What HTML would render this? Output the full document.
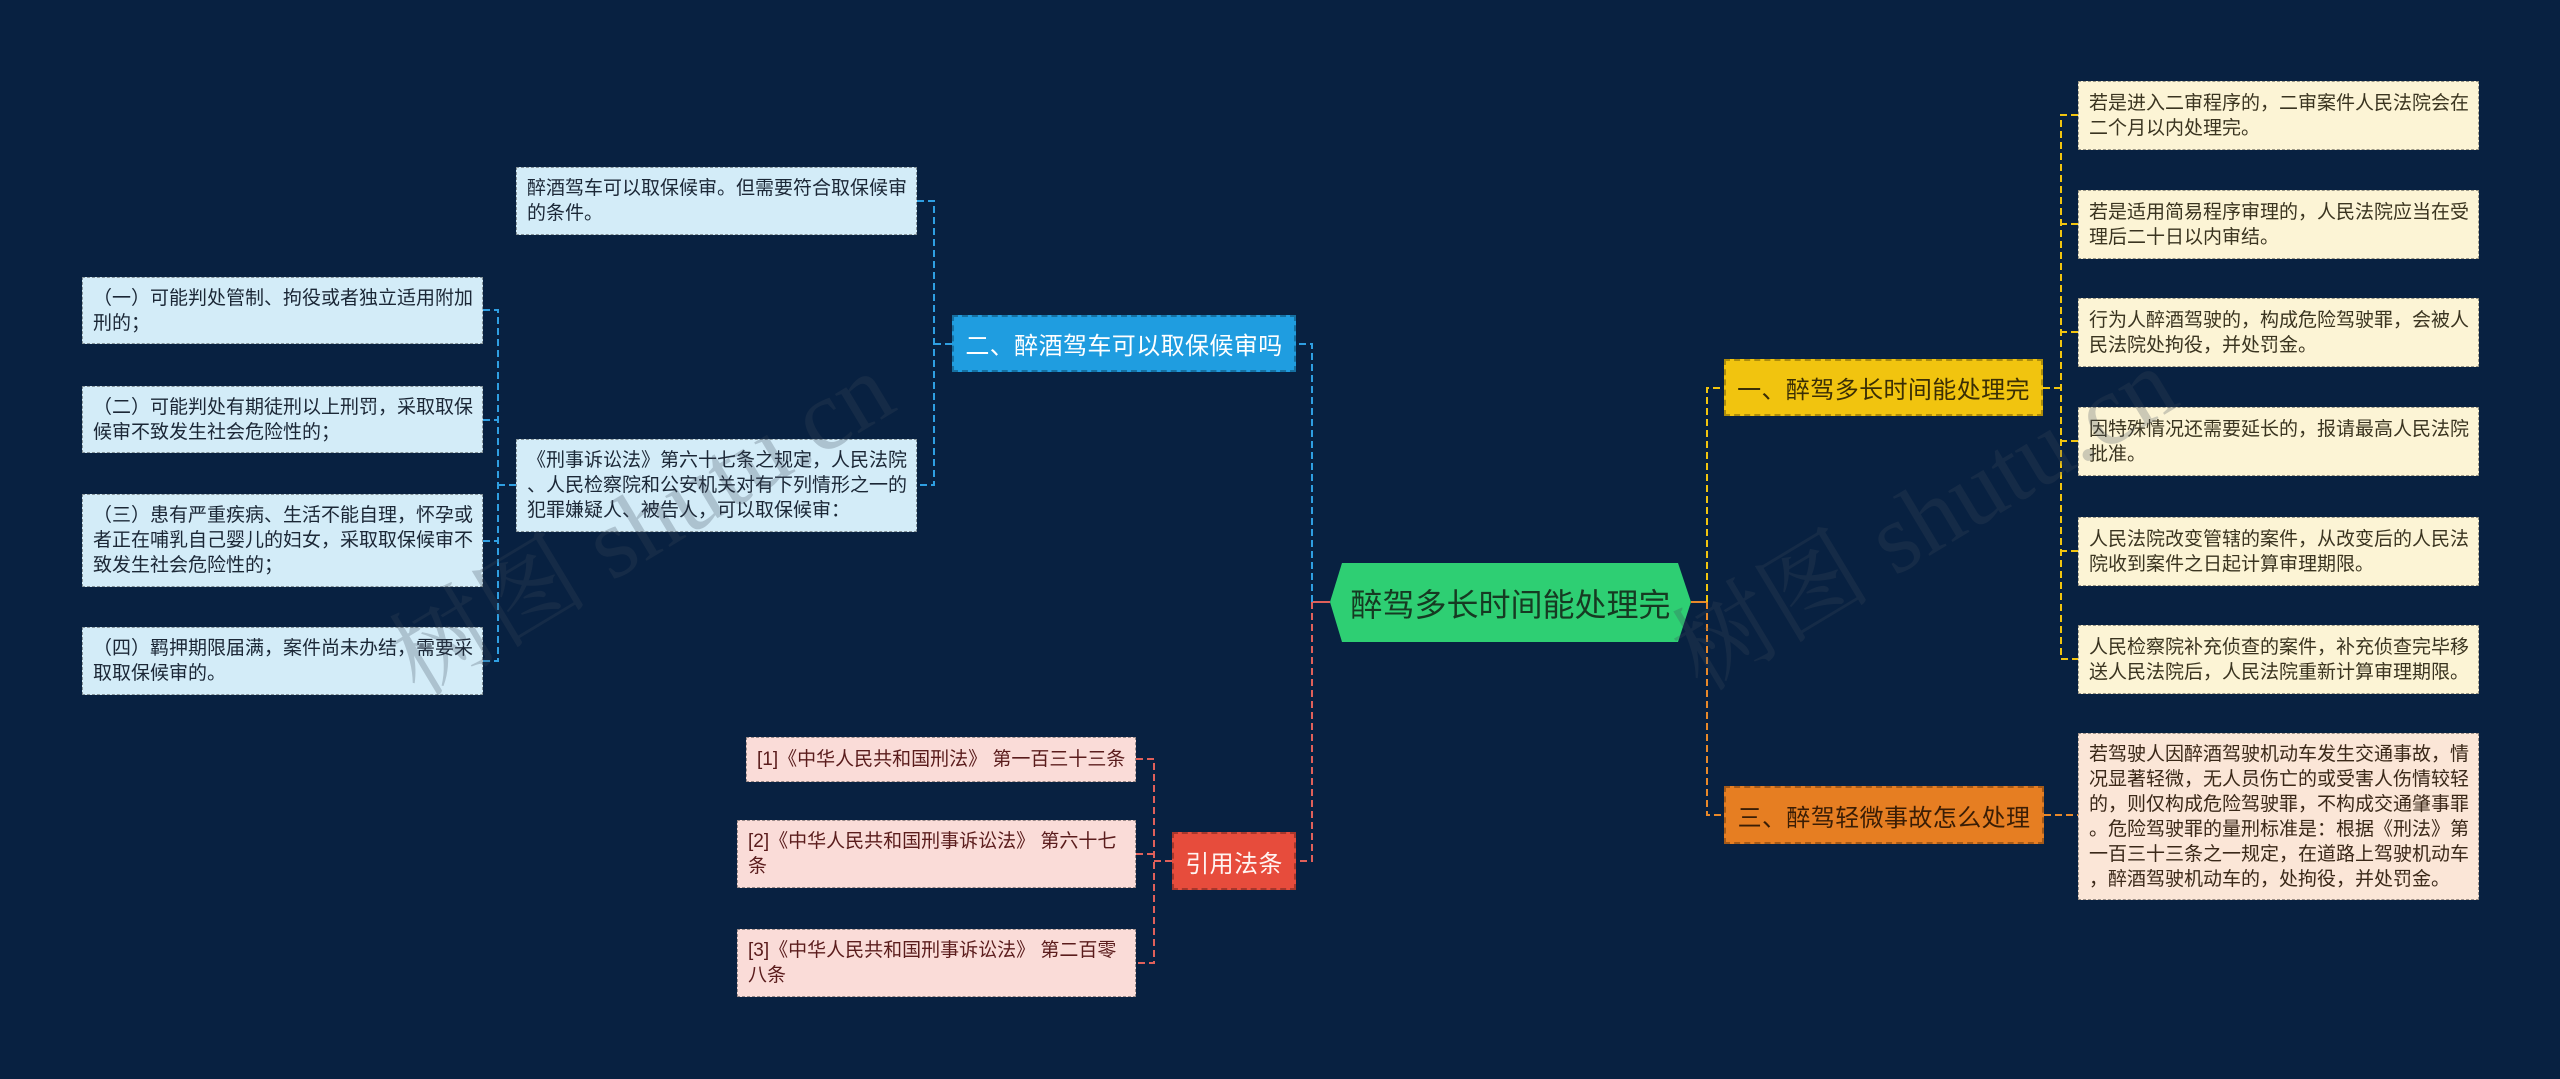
<!DOCTYPE html>
<html>
<head>
<meta charset="utf-8">
<style>
html,body{margin:0;padding:0;}
body{width:2560px;height:1079px;background:#082141;position:relative;overflow:hidden;font-family:"Liberation Sans","Noto Sans CJK SC",sans-serif;}
.n{position:absolute;box-sizing:border-box;white-space:nowrap;display:flex;align-items:center;}
.leaf{font-size:19px;line-height:25px;padding:0 10px;border:1.5px dashed rgba(40,40,40,0.45);}
.cream{background:#fcf4d5;color:#3a3420;}
.peach{background:#fbe6d7;color:#3a2818;}
.lblue{background:#d3ecf8;color:#1b2736;}
.pink{background:#fadcd8;color:#5a1c1c;}
.hdr{font-size:24px;letter-spacing:0.4px;justify-content:center;border:2px dashed rgba(0,0,0,0.28);}
.wm{position:absolute;width:760px;height:130px;line-height:130px;text-align:center;font-family:"Liberation Serif","Noto Serif CJK SC",serif;font-size:100px;color:rgba(60,72,90,0.26);transform:rotate(-31deg);white-space:nowrap;pointer-events:none;}
</style>
</head>
<body>
<svg width="2560" height="1079" style="position:absolute;left:0;top:0;" xmlns="http://www.w3.org/2000/svg">
  <g fill="none" stroke-width="2" stroke-dasharray="7 4">
    <path d="M1330,602 H1312" stroke="#e0605a" stroke-dasharray="none"/>
    <path d="M1312,602 V344 H1296" stroke="#2f9fe2"/>
    <path d="M1312,602 V861 H1296" stroke="#e0605a"/>
    <path d="M1691,602 H1707" stroke="#e8892a" stroke-dasharray="none"/>
    <path d="M1707,602 V388 H1724" stroke="#f1c40f"/>
    <path d="M1707,602 V815 H1724" stroke="#e8892a"/>
    <path d="M952,344 H934" stroke="#2f9fe2"/>
    <path d="M917,201 H934 V485 H917" stroke="#2f9fe2"/>
    <path d="M516,485 H498" stroke="#2f9fe2"/>
    <path d="M483,310 H498 V661 H483" stroke="#2f9fe2"/>
    <path d="M483,420 H498" stroke="#2f9fe2"/>
    <path d="M483,541 H498" stroke="#2f9fe2"/>
    <path d="M2043,388 H2061" stroke="#f1c40f"/>
    <path d="M2078,115 H2061 V659 H2078" stroke="#f1c40f"/>
    <path d="M2078,224 H2061" stroke="#f1c40f"/>
    <path d="M2078,332 H2061" stroke="#f1c40f"/>
    <path d="M2078,441 H2061" stroke="#f1c40f"/>
    <path d="M2078,551 H2061" stroke="#f1c40f"/>
    <path d="M2044,815 H2078" stroke="#e8892a"/>
    <path d="M1172,861 H1154" stroke="#e0605a"/>
    <path d="M1136,759 H1154 V963 H1136" stroke="#e0605a"/>
    <path d="M1136,854 H1154" stroke="#e0605a"/>
  </g>
  <polygon points="1330,602 1342,563 1678,563 1691,602 1678,642 1342,642" fill="#2ecf73"/>
</svg>

<div class="n" style="left:1330px;top:563px;width:361px;height:79px;justify-content:center;font-size:32px;color:#163a22;">醉驾多长时间能处理完</div>

<div class="n hdr" style="left:952px;top:315px;width:344px;height:57px;background:#1f9de0;color:#ffffff;">二、醉酒驾车可以取保候审吗</div>
<div class="n hdr" style="left:1172px;top:832px;width:124px;height:58px;background:#e74c3c;color:#fff4f2;">引用法条</div>
<div class="n hdr" style="left:1724px;top:359px;width:319px;height:57px;background:#f1c40f;color:#3a2e05;">一、醉驾多长时间能处理完</div>
<div class="n hdr" style="left:1724px;top:786px;width:320px;height:58px;background:#e67e22;color:#3a1d05;">三、醉驾轻微事故怎么处理</div>

<div class="n leaf cream" style="left:2078px;top:81px;width:401px;height:69px;">若是进入二审程序的，二审案件人民法院会在<br>二个月以内处理完。</div>
<div class="n leaf cream" style="left:2078px;top:190px;width:401px;height:69px;">若是适用简易程序审理的，人民法院应当在受<br>理后二十日以内审结。</div>
<div class="n leaf cream" style="left:2078px;top:298px;width:401px;height:69px;">行为人醉酒驾驶的，构成危险驾驶罪，会被人<br>民法院处拘役，并处罚金。</div>
<div class="n leaf cream" style="left:2078px;top:407px;width:401px;height:69px;">因特殊情况还需要延长的，报请最高人民法院<br>批准。</div>
<div class="n leaf cream" style="left:2078px;top:517px;width:401px;height:69px;">人民法院改变管辖的案件，从改变后的人民法<br>院收到案件之日起计算审理期限。</div>
<div class="n leaf cream" style="left:2078px;top:625px;width:401px;height:69px;">人民检察院补充侦查的案件，补充侦查完毕移<br>送人民法院后，人民法院重新计算审理期限。</div>

<div class="n leaf peach" style="left:2078px;top:733px;width:401px;height:167px;">若驾驶人因醉酒驾驶机动车发生交通事故，情<br>况显著轻微，无人员伤亡的或受害人伤情较轻<br>的，则仅构成危险驾驶罪，不构成交通肇事罪<br>。危险驾驶罪的量刑标准是：根据《刑法》第<br>一百三十三条之一规定，在道路上驾驶机动车<br>，醉酒驾驶机动车的，处拘役，并处罚金。</div>

<div class="n leaf lblue" style="left:516px;top:167px;width:401px;height:68px;">醉酒驾车可以取保候审。但需要符合取保候审<br>的条件。</div>
<div class="n leaf lblue" style="left:516px;top:439px;width:401px;height:93px;">《刑事诉讼法》第六十七条之规定，人民法院<br>、人民检察院和公安机关对有下列情形之一的<br>犯罪嫌疑人、被告人，可以取保候审：</div>

<div class="n leaf lblue" style="left:82px;top:277px;width:401px;height:67px;">（一）可能判处管制、拘役或者独立适用附加<br>刑的；</div>
<div class="n leaf lblue" style="left:82px;top:386px;width:401px;height:67px;">（二）可能判处有期徒刑以上刑罚，采取取保<br>候审不致发生社会危险性的；</div>
<div class="n leaf lblue" style="left:82px;top:494px;width:401px;height:93px;">（三）患有严重疾病、生活不能自理，怀孕或<br>者正在哺乳自己婴儿的妇女，采取取保候审不<br>致发生社会危险性的；</div>
<div class="n leaf lblue" style="left:82px;top:627px;width:401px;height:68px;">（四）羁押期限届满，案件尚未办结，需要采<br>取取保候审的。</div>

<div class="n leaf pink" style="left:746px;top:737px;width:390px;height:45px;">[1]《中华人民共和国刑法》 第一百三十三条</div>
<div class="n leaf pink" style="left:737px;top:820px;width:399px;height:68px;">[2]《中华人民共和国刑事诉讼法》 第六十七<br>条</div>
<div class="n leaf pink" style="left:737px;top:929px;width:399px;height:68px;">[3]《中华人民共和国刑事诉讼法》 第二百零<br>八条</div>

<div class="wm" style="left:262px;top:460px;">树图 shutu.cn</div>
<div class="wm" style="left:1545px;top:455px;">树图 shutu.cn</div>
</body>
</html>
